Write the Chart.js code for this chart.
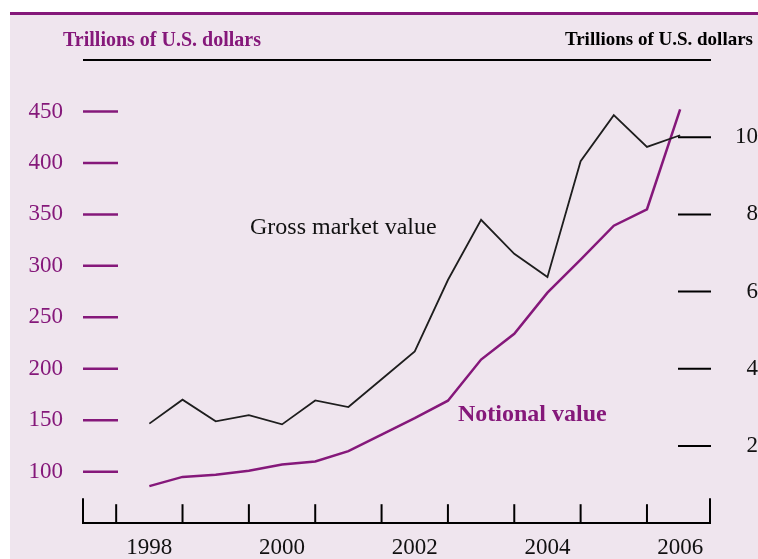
<!DOCTYPE html>
<html>
<head>
<meta charset="utf-8">
<script src="https://cdn.jsdelivr.net/npm/chart.js@4.4.1/dist/chart.umd.min.js"></script>
<style>
    html, body { margin: 0; padding: 0; background: #fff; }
    #wrap { width: 758px; height: 559px; position: relative; }
</style>
</head>
<body>
<div id="wrap"><canvas id="derivatives_chart"></canvas></div>
<script>
// Half-year observations (June = .5, December = year end)
const periods = [1998.5, 1999, 1999.5, 2000, 2000.5, 2001, 2001.5, 2002, 2002.5, 2003, 2003.5, 2004, 2004.5, 2005, 2005.5, 2006, 2006.5];
// Gross market value, right scale (trillions of U.S. dollars)
const grossMarketValue = [2.58, 3.20, 2.64, 2.80, 2.56, 3.18, 3.01, 3.73, 4.45, 6.3, 7.86, 6.98, 6.38, 9.38, 10.57, 9.75, 10.05];
// Notional value, left scale (trillions of U.S. dollars)
const notionalValue = [86, 95, 97, 101, 107, 110, 120, 136, 152, 169, 209, 234, 274, 306, 339, 355, 452];

const yearLabels = [1998, 2000, 2002, 2004, 2006];
const yearBoundaries = [1998, 1999, 2000, 2001, 2002, 2003, 2004, 2005, 2006];
const leftTicks = [100, 150, 200, 250, 300, 350, 400, 450];
const rightTicks = [2, 4, 6, 8, 10];

const purple = '#85187a';
const panel = '#efe5ee';
const serif = '"Liberation Serif", "DejaVu Serif", serif';

document.addEventListener('DOMContentLoaded', function() {
    const ctx = document.getElementById('derivatives_chart').getContext('2d');

    // Background panel, axis dashes, tick marks and labels
    const decorations = {
        id: 'decorations',
        beforeDraw(chart) {
            const c = chart.ctx;
            c.save();
            c.fillStyle = panel;
            c.fillRect(10, 12, chart.width - 10, chart.height - 12);
            c.fillStyle = purple;
            c.fillRect(10, 12, chart.width - 10, 3);
            c.restore();
        },
        afterDraw(chart) {
            const c = chart.ctx;
            const area = chart.chartArea;
            const x = chart.scales.x;
            const yl = chart.scales.yLeft;
            const yr = chart.scales.yRight;
            c.save();

            // top rule
            c.strokeStyle = '#000';
            c.lineWidth = 2;
            c.beginPath();
            c.moveTo(area.left, area.top);
            c.lineTo(area.right + 1, area.top);
            c.stroke();

            // left dashes
            c.strokeStyle = purple;
            c.lineWidth = 2.5;
            leftTicks.forEach(v => {
                const py = yl.getPixelForValue(v);
                c.beginPath();
                c.moveTo(area.left, py);
                c.lineTo(area.left + 35, py);
                c.stroke();
            });

            // right dashes
            c.strokeStyle = '#000';
            c.lineWidth = 2;
            rightTicks.forEach(v => {
                const py = yr.getPixelForValue(v);
                c.beginPath();
                c.moveTo(area.right - 32, py);
                c.lineTo(area.right + 1, py);
                c.stroke();
            });

            // x tick marks pointing up
            yearBoundaries.forEach(v => {
                const px = x.getPixelForValue(v);
                c.beginPath();
                c.moveTo(px, area.bottom);
                c.lineTo(px, area.bottom - 19);
                c.stroke();
            });
            [area.left, area.right].forEach(px => {
                c.beginPath();
                c.moveTo(px, area.bottom);
                c.lineTo(px, area.bottom - 25);
                c.stroke();
            });

            // axis units
            c.textBaseline = 'middle';
            c.font = 'bold 20px ' + serif;
            c.fillStyle = purple;
            c.textAlign = 'left';
            c.fillText('Trillions of U.S. dollars', 63, 41);
            c.font = 'bold 19px ' + serif;
            c.fillStyle = '#000';
            c.textAlign = 'right';
            c.fillText('Trillions of U.S. dollars', 753, 40);

            // series labels
            c.textAlign = 'left';
            c.font = '24px ' + serif;
            c.fillStyle = '#111';
            c.fillText('Gross market value', 250, 228);
            c.font = 'bold 24px ' + serif;
            c.fillStyle = purple;
            c.fillText('Notional value', 458, 415);

            c.restore();
        }
    };

    new Chart(ctx, {
        type: 'line',
        data: {
            datasets: [{
                label: 'Gross market value',
                data: periods.map((p, i) => ({ x: p, y: grossMarketValue[i] })),
                yAxisID: 'yRight',
                borderColor: '#1e1e1e',
                borderWidth: 1.8,
                pointRadius: 0,
                tension: 0
            }, {
                label: 'Notional value',
                data: periods.map((p, i) => ({ x: p, y: notionalValue[i] })),
                yAxisID: 'yLeft',
                borderColor: purple,
                borderWidth: 2.5,
                pointRadius: 0,
                tension: 0
            }]
        },
        options: {
            responsive: true,
            maintainAspectRatio: false,
            animation: false,
            layout: {
                padding: { top: 60, left: 0, right: 0, bottom: 0 }
            },
            plugins: {
                legend: { display: false },
                title: { display: false },
                tooltip: { enabled: false }
            },
            scales: {
                x: {
                    type: 'linear',
                    min: 1997.5,
                    max: 2006.95,
                    grid: { display: false, drawTicks: false },
                    border: { display: true, color: '#000', width: 2 },
                    afterBuildTicks(scale) {
                        scale.ticks = yearLabels.map(v => ({ value: v + 0.5 }));
                    },
                    afterFit(scale) {
                        scale.height = 33;
                    },
                    ticks: {
                        autoSkip: false,
                        maxRotation: 0,
                        padding: 11,
                        color: '#111',
                        font: { family: serif, size: 23 },
                        callback: value => String(Math.floor(value))
                    }
                },
                yLeft: {
                    type: 'linear',
                    position: 'left',
                    min: 50,
                    max: 500,
                    grid: { display: false, drawTicks: false },
                    border: { display: false },
                    afterBuildTicks(scale) {
                        scale.ticks = leftTicks.map(v => ({ value: v }));
                    },
                    afterFit(scale) {
                        scale.width = 83;
                    },
                    ticks: {
                        padding: 20,
                        color: purple,
                        font: { family: serif, size: 23 }
                    }
                },
                yRight: {
                    type: 'linear',
                    position: 'right',
                    min: 0,
                    max: 12,
                    grid: { display: false, drawTicks: false },
                    border: { display: false },
                    afterBuildTicks(scale) {
                        scale.ticks = rightTicks.map(v => ({ value: v }));
                    },
                    afterFit(scale) {
                        scale.width = 48;
                    },
                    ticks: {
                        padding: 22,
                        crossAlign: 'far',
                        color: '#111',
                        font: { family: serif, size: 23 }
                    }
                }
            }
        },
        plugins: [decorations]
    });
});
</script>
</body>
</html>
